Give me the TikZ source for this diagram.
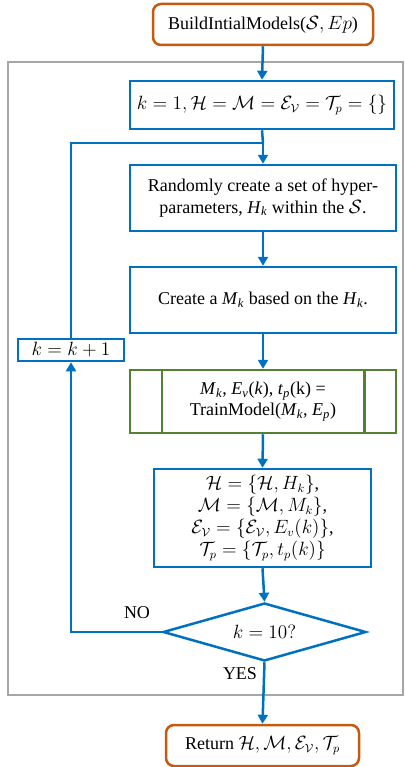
\documentclass[tikz,border=0pt]{standalone}
\usepackage{amsmath}
\usepackage{fontspec}
\setmainfont{Liberation Serif}
\usetikzlibrary{shapes.geometric,arrows.meta}
\newdimen\pxu
\pxu=0.75pt
% italic variable with italic subscript, set in the text face
\newcommand\vi[2]{\textit{#1}$_{\text{\itshape #2}}$}
\definecolor{flowblue}{HTML}{0070C0}
\definecolor{flowbrown}{HTML}{C55A11}
\definecolor{flowgreen}{HTML}{548235}
\definecolor{framegray}{HTML}{A6A6A6}
\begin{document}
\begin{tikzpicture}[x=0.75pt,y=-0.75pt,
  every node/.style={font=\fontsize{13.5}{16}\selectfont, inner sep=0pt, align=center},
  procbox/.style={draw=flowblue, line width=2.5\pxu, rectangle},
  termbox/.style={draw=flowbrown, line width=2.5\pxu, rectangle, rounded corners=8\pxu},
  subbox/.style={draw=flowgreen, line width=2.5\pxu, rectangle},
  decide/.style={draw=flowblue, line width=2.5\pxu, diamond, aspect=3.5},
  flow/.style={draw=flowblue, line width=2.5\pxu},
  flowarrow/.style={flow, -{Triangle[length=6.75pt, width=7.5pt]}},
  lbl/.style={font=\fontsize{13.5}{16}\selectfont}
]
\useasboundingbox (0,0) rectangle (404,767);

% enclosing frame of the loop
\draw[framegray, line width=2.2\pxu] (8,62) rectangle (403,695);

% nodes
\node[termbox, minimum width=220\pxu, minimum height=41\pxu] (start) at (263,24.5)
  {BuildIntialModels($\mathcal{S}, Ep$)};
\node[procbox, minimum width=264\pxu, minimum height=48\pxu] (init) at (262,105)
  {$k = 1, \mathcal{H} = \mathcal{M} = \mathcal{E}_{\mathcal{V}} = \mathcal{T}_p = \{\}$};
\node[procbox, minimum width=266\pxu, minimum height=66\pxu] (rand) at (263,198)
  {Randomly create a set of hyper-\\parameters, \vi{H}{k} within the $\mathcal{S}$.};
\node[procbox, minimum width=266\pxu, minimum height=66\pxu] (create) at (263,300)
  {Create a \vi{M}{k} based on the \vi{H}{k}.};
\node[subbox, minimum width=266\pxu, minimum height=63\pxu] (train) at (263,401.5)
  {\vi{M}{k}, \vi{E}{v}(\textit{k}), \vi{t}{p}(k) =\\TrainModel(\vi{M}{k}, \vi{E}{p})};
\draw[flowgreen, line width=2.5\pxu] ([xshift=33\pxu]train.north west) -- ([xshift=33\pxu]train.south west);
\draw[flowgreen, line width=2.5\pxu] ([xshift=-33\pxu]train.north east) -- ([xshift=-33\pxu]train.south east);
\node[procbox, minimum width=217\pxu, minimum height=98\pxu, font=\fontsize{13.5}{16.5}\selectfont] (store) at (262.5,518)
  {$\mathcal{H} = \{\mathcal{H}, H_k\}$,\\
   $\mathcal{M} = \{\mathcal{M}, M_k\}$,\\
   $\mathcal{E}_{\mathcal{V}} = \{\mathcal{E}_{\mathcal{V}}, E_v(k)\}$,\\
   $\mathcal{T}_p = \left\{\mathcal{T}_p, t_p(k)\right\}$};
\node[decide, minimum width=203\pxu, minimum height=58\pxu] (check) at (264.5,632)
  {$k = 10?$};
\node[procbox, minimum width=106\pxu, minimum height=22\pxu] (incr) at (71,350)
  {$k = k + 1$};
\node[termbox, minimum width=193\pxu, minimum height=41\pxu] (ret) at (262.5,745.5)
  {Return $\mathcal{H}, \mathcal{M}, \mathcal{E}_{\mathcal{V}}, \mathcal{T}_p$};

% loop junction above the random step
\coordinate (join) at (263,143);

% connectors
\draw[flowarrow] (start.south) -- (init.north);
\draw[flow] (init.south) -- (join);
\draw[flowarrow] (join) -- (rand.north);
\draw[flowarrow] (rand.south) -- (create.north);
\draw[flowarrow] (create.south) -- (train.north);
\draw[flowarrow] (train.south) -- (store.north);
\draw[flowarrow] (store.south) -- (check.north);
\draw[flowarrow] (check.west) -| (incr.south);
\draw[flow] (incr.north) |- (join);
\draw[flowarrow] (check.south) -- (ret.north);

% branch labels
\node[lbl] (nolbl) at (137,613) {NO};
\node[lbl] (yeslbl) at (240,674) {YES};
\end{tikzpicture}
\end{document}
